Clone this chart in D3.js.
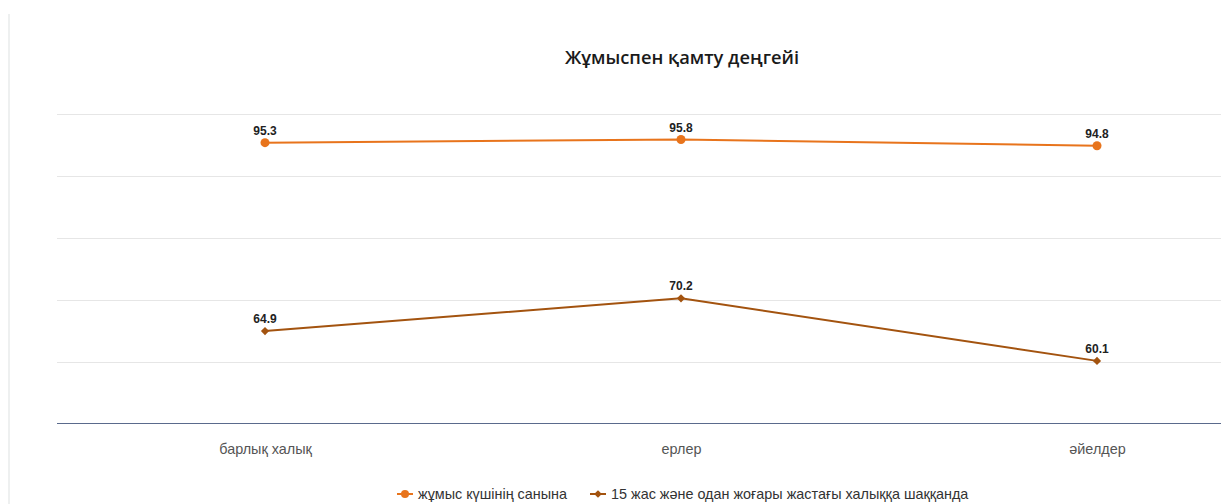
<!DOCTYPE html>
<html><head><meta charset="utf-8">
<script src="https://cdn.jsdelivr.net/npm/d3@7/dist/d3.min.js"></script>
<style>body{margin:0;background:#fff;overflow:hidden}svg{display:block}</style>
</head><body><svg id="c" width="1221" height="504"></svg>
<script>
const title = "Жұмыспен қамту деңгейі";
const categories = ["барлық халық", "ерлер", "әйелдер"];
const seriesNames = ["жұмыс күшінің санына", "15 жас және одан жоғары жастағы халыққа шаққанда"];
const laborForce = [95.3, 95.8, 94.8];
const population15 = [64.9, 70.2, 60.1];
const yTicks = [50, 60, 70, 80, 90, 100];
const colors = ["#e8741c", "#a3530f"];

const svg = d3.select("#c");
// card left border
svg.append("line").attr("x1", 9).attr("x2", 9).attr("y1", 14).attr("y2", 504)
  .attr("stroke", "#eef0f0").attr("stroke-width", 2);

const x = d3.scalePoint().domain(categories).range([57, 1305]).padding(0.5);
const y = d3.scaleLinear().domain([50, 100]).range([423.5, 113.5]);

// gridlines
svg.append("g").selectAll("line").data(yTicks.slice(1)).join("line")
  .attr("x1", 57).attr("x2", 1305)
  .attr("y1", d => Math.round(y(d)) + 0.5).attr("y2", d => Math.round(y(d)) + 0.5)
  .attr("stroke", "#e6e6e6").attr("stroke-width", 1);

// x axis
const xAxis = svg.append("g").attr("transform", `translate(0,${y(50)})`)
  .call(d3.axisBottom(x).tickSize(0).tickPadding(20));
xAxis.select(".domain").attr("stroke", "#5a6a8c").attr("d", "M57,0H1305");
xAxis.selectAll("text").attr("font-family", "Arial, 'Liberation Sans', sans-serif")
  .attr("font-size", 14.4).attr("fill", "#555");

// title
svg.append("text").attr("x", 682).attr("y", 64).attr("text-anchor", "middle")
  .attr("font-family", "'Open Sans', sans-serif").attr("font-weight", 600)
  .attr("font-size", 18.3).attr("fill", "#1a1a1a").text(title);

const diamond = d3.symbol(d3.symbolSquare, 34);
const series = [laborForce, population15];
const line = d3.line().x((d, i) => x(categories[i])).y(d => y(d));
series.forEach((vals, si) => {
  const g = svg.append("g");
  g.append("path").datum(vals).attr("d", line).attr("fill", "none")
    .attr("stroke", colors[si]).attr("stroke-width", 2);
  if (si === 0) {
    g.selectAll("circle").data(vals).join("circle")
      .attr("cx", (d, i) => x(categories[i])).attr("cy", d => y(d)).attr("r", 4.5)
      .attr("fill", colors[si]);
  } else {
    g.selectAll("path.m").data(vals).join("path").attr("class", "m")
      .attr("d", diamond)
      .attr("transform", (d, i) => `translate(${x(categories[i])},${y(d)}) rotate(45)`)
      .attr("fill", colors[si]);
  }
  g.selectAll("text").data(vals).join("text")
    .attr("x", (d, i) => x(categories[i])).attr("y", d => y(d) - 8)
    .attr("text-anchor", "middle").attr("font-family", "Arial, 'Liberation Sans', sans-serif")
    .attr("font-weight", "bold").attr("font-size", 12).attr("fill", "#222")
    .text(d => d.toFixed(1));
});

// legend
const lg = svg.append("g").attr("font-family", "Arial, 'Liberation Sans', sans-serif")
  .attr("font-size", 14.4).attr("fill", "#333");
const legendX = [397, 590];
seriesNames.forEach((n, i) => {
  const gx = legendX[i], gy = 494;
  lg.append("line").attr("x1", gx).attr("x2", gx + 16).attr("y1", gy).attr("y2", gy)
    .attr("stroke", colors[i]).attr("stroke-width", 2);
  if (i === 0) lg.append("circle").attr("cx", gx + 8).attr("cy", gy).attr("r", 4).attr("fill", colors[i]);
  else lg.append("path").attr("d", d3.symbol(d3.symbolSquare, 30))
    .attr("transform", `translate(${gx + 8},${gy}) rotate(45)`).attr("fill", colors[i]);
  lg.append("text").attr("x", gx + 21).attr("y", gy + 5).text(n);
});
</script></body></html>
